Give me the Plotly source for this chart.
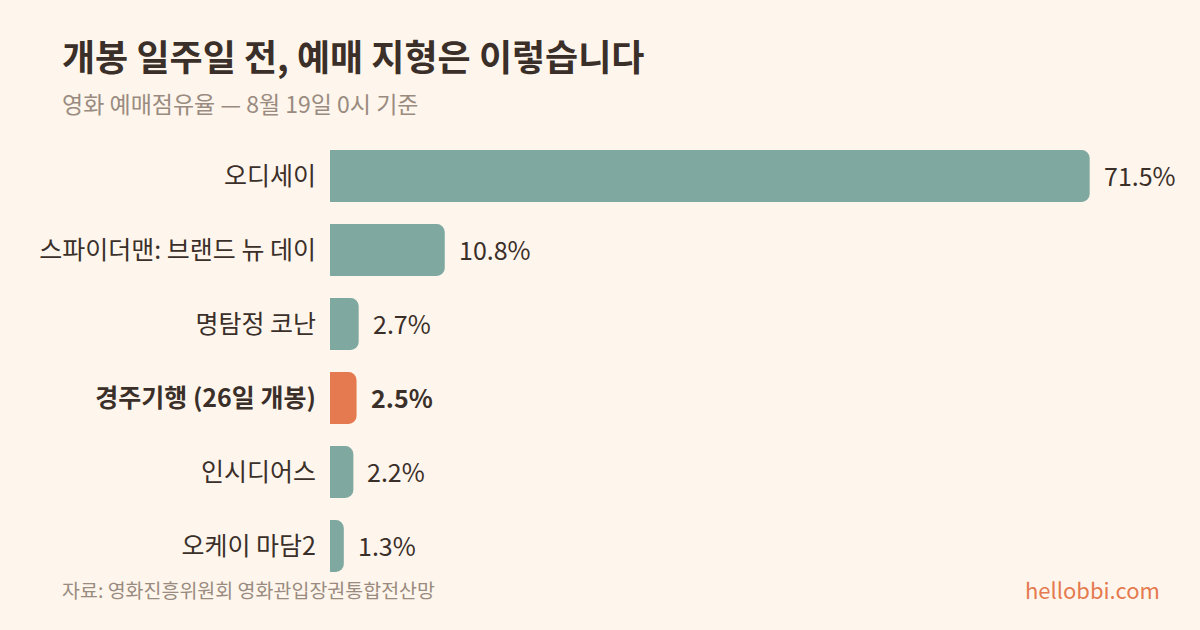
import plotly.graph_objects as go

categories = ["오디세이", "스파이더맨: 브랜드 뉴 데이", "명탐정 코난", "경주기행 (26일 개봉)", "인시디어스", "오케이 마담2"]
shares = [71.5, 10.8, 2.7, 2.5, 2.2, 1.3]
highlight = "경주기행 (26일 개봉)"

BG = "#FEF6EC"
TEAL = "#7FA8A0"
ORANGE = "#E57A50"
DARK = "#3B2F2A"
GRAY = "#9A8B80"
FONT = "Noto Sans CJK KR"

colors = [ORANGE if c == highlight else TEAL for c in categories]
ticktext = [f"<b>{c}</b>" if c == highlight else c for c in categories]

fig = go.Figure(go.Bar(
    x=shares, y=categories, orientation="h",
    marker=dict(color=colors, line=dict(width=0)),
    width=0.70, hoverinfo="skip",
))

annotations = []
for c, v in zip(categories, shares):
    label = f"{v:.1f}%"
    if c == highlight:
        label = f"<b>{label}</b>"
    annotations.append(dict(x=v, y=c, xref="x", yref="y", text=label, showarrow=False,
                            xanchor="left", yanchor="middle", xshift=12, yshift=1,
                            font=dict(family=FONT, size=25, color=DARK)))

header = [
    dict(x=60, y=55, text="<b>개봉 일주일 전, 예매 지형은 이렇습니다</b>",
         xanchor="left", font=dict(family=FONT, size=36, color=DARK)),
    dict(x=60, y=103, text="영화 예매점유율 — 8월 19일 0시 기준",
         xanchor="left", font=dict(family=FONT, size=23, color=GRAY)),
    dict(x=60, y=589, text="자료: 영화진흥위원회 영화관입장권통합전산망",
         xanchor="left", font=dict(family=FONT, size=19.5, color=GRAY)),
    dict(x=1162, y=589, text="hellobbi.com",
         xanchor="right", font=dict(family=FONT, size=22, color=ORANGE)),
]
W, H = 1200, 630
ML, MR, MT, MB = 330, 20, 139, 47
pw, ph = W - ML - MR, H - MT - MB
for a in header:
    a["x"] = (a["x"] - ML) / pw
    a["y"] = (H - MB - a["y"]) / ph
    a.update(xref="paper", yref="paper", showarrow=False, yanchor="middle")
annotations += header

fig.update_layout(
    width=W, height=H,
    margin=dict(l=ML, r=MR, t=MT, b=MB, autoexpand=False),
    paper_bgcolor=BG, plot_bgcolor=BG,
    barcornerradius=8,
    showlegend=False,
    xaxis=dict(range=[0, 80], visible=False, fixedrange=True),
    yaxis=dict(autorange="reversed", tickmode="array", tickvals=categories, ticktext=ticktext,
               showgrid=False, zeroline=False, showline=False, ticks="outside",
               ticklen=8, tickcolor="rgba(0,0,0,0)",
               tickfont=dict(family=FONT, size=25, color=DARK), fixedrange=True),
    annotations=annotations,
    font=dict(family=FONT),
)

fig.write_html("out.html", config={"displayModeBar": False},
               post_script="document.body.style.margin='0';document.body.style.background='#FEF6EC';")
